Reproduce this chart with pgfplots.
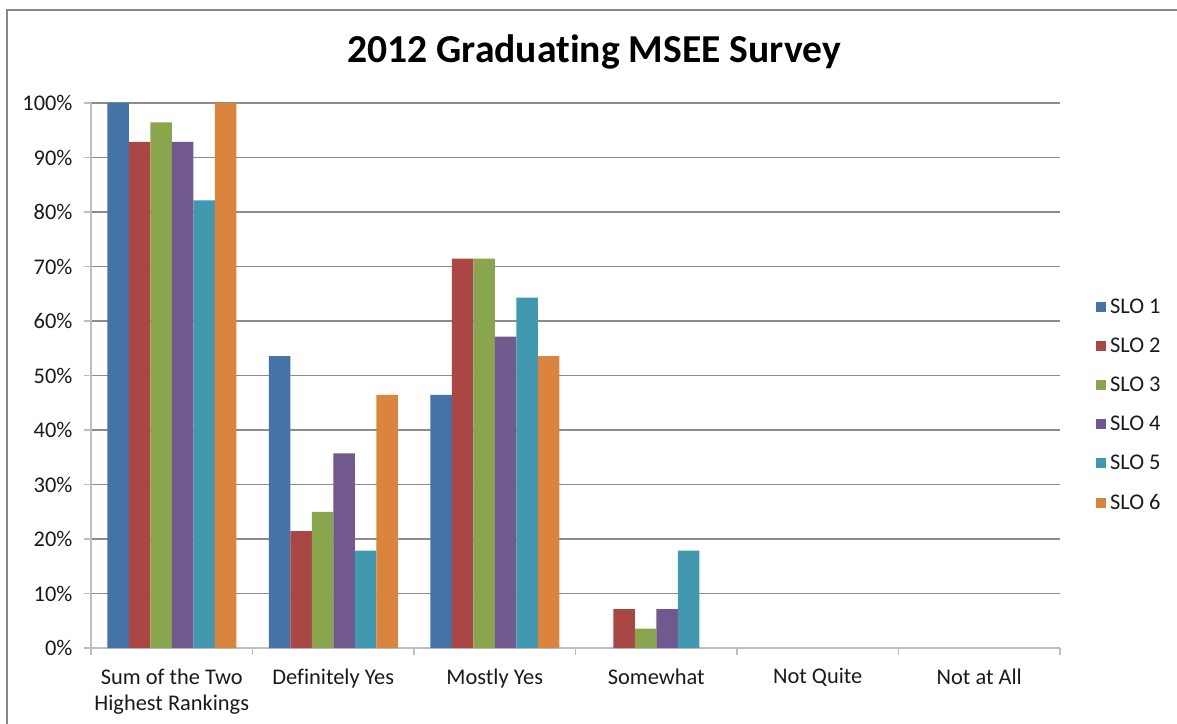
\documentclass[border=0pt]{standalone}
\usepackage{pgfplots}
\pgfplotsset{compat=1.18}
\usepackage{fontspec}
\setmainfont{Carlito}[Ligatures=NoCommon]
\definecolor{c1}{HTML}{4572A7}
\definecolor{c2}{HTML}{AA4643}
\definecolor{c3}{HTML}{89A54E}
\definecolor{c4}{HTML}{71588F}
\definecolor{c5}{HTML}{4198AF}
\definecolor{c6}{HTML}{DB843D}
\definecolor{gridc}{HTML}{8C8C8C}
\definecolor{axisc}{HTML}{BEBEBE}
\definecolor{framec}{HTML}{868686}
\definecolor{txt}{HTML}{1A1A1A}
\begin{document}
\begin{tikzpicture}
\useasboundingbox (0pt,0pt) rectangle (1177pt,723pt);
\draw[line width=2pt, color=framec] (6.5pt,-30pt) -- (6.5pt,713pt) -- (1210pt,713pt);
\node[font=\fontsize{39.6}{46}\selectfont\bfseries, text=black] at (594pt,671pt) {2012 Graduating MSEE Survey};
\begin{axis}[
  at={(91pt,75pt)}, anchor=south west, scale only axis,
  width=969pt, height=545pt,
  xmin=-0.5, xmax=5.5, ymin=0, ymax=100,
  ybar=0pt, bar width=21.5pt,
  axis x line*=bottom, axis y line*=left,
  axis line style={-, color=axisc, line width=1.5pt},
  tick align=outside, major tick length=7pt,
  tick style={color=axisc, line width=1.5pt},
  ytick={0,10,...,100},
  yticklabels={0\%,10\%,20\%,30\%,40\%,50\%,60\%,70\%,80\%,90\%,100\%},
  xtick={-0.5,0.5,...,5.5},
  x tick label as interval,
  xticklabels={{Sum of the Two\\Highest Rankings},{Definitely Yes},{Mostly Yes},{Somewhat},{Not Quite},{Not at All}},
  xticklabel style={align=center, font=\fontsize{22.4}{26}\selectfont, text=txt, yshift=-10pt},
  yticklabel style={font=\fontsize{22.4}{25}\selectfont, text=txt, xshift=-8pt},
  ymajorgrids=true, xmajorgrids=false,
  grid style={color=gridc, line width=1.5pt},
  legend style={at={(1.034,0.446)}, anchor=west, draw=none, fill=none,
    row sep=19pt, font=\fontsize{22.4}{25}\selectfont, text=txt,
    nodes={inner xsep=4pt}},
  legend cell align=left,
  legend image code/.code={\fill[#1] (0pt,-5pt) rectangle (10pt,5pt);},
]
\addplot[fill=c1, draw=none] coordinates {(0,100) (1,53.57) (2,46.43)};
\addplot[fill=c2, draw=none] coordinates {(0,92.86) (1,21.43) (2,71.43) (3,7.14)};
\addplot[fill=c3, draw=none] coordinates {(0,96.43) (1,25) (2,71.43) (3,3.57)};
\addplot[fill=c4, draw=none] coordinates {(0,92.86) (1,35.71) (2,57.14) (3,7.14)};
\addplot[fill=c5, draw=none] coordinates {(0,82.14) (1,17.86) (2,64.29) (3,17.86)};
\addplot[fill=c6, draw=none] coordinates {(0,100) (1,46.43) (2,53.57)};
\legend{SLO 1,SLO 2,SLO 3,SLO 4,SLO 5,SLO 6}
\end{axis}
\end{tikzpicture}
\end{document}
